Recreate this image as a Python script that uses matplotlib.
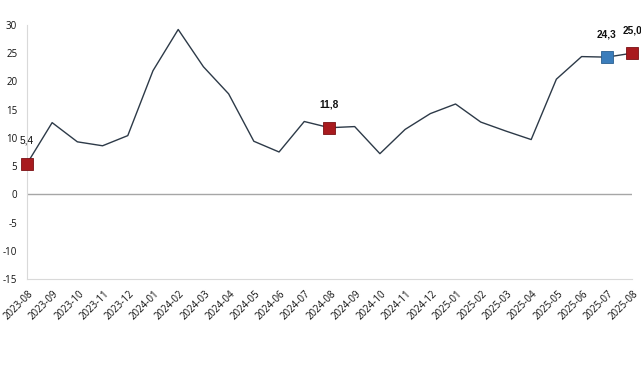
import matplotlib
matplotlib.use("Agg")
import matplotlib.pyplot as plt
import matplotlib.transforms as mtransforms

plt.rcParams["axes.unicode_minus"] = False

months = ["2023-08", "2023-09", "2023-10", "2023-11", "2023-12", "2024-01", "2024-02",
          "2024-03", "2024-04", "2024-05", "2024-06", "2024-07", "2024-08", "2024-09",
          "2024-10", "2024-11", "2024-12", "2025-01", "2025-02", "2025-03", "2025-04",
          "2025-05", "2025-06", "2025-07", "2025-08"]
values = [5.4, 12.7, 9.3, 8.6, 10.4, 21.9, 29.2, 22.6, 17.8, 9.4, 7.5, 12.9, 11.8,
          12.0, 7.2, 11.5, 14.3, 16.0, 12.8, 11.2, 9.7, 20.4, 24.4, 24.3, 25.0]
red_idx = [0, 12, 24]
blue_idx = [23]
label_idx = [0, 12, 23, 24]
yticks = [-15, -10, -5, 0, 5, 10, 15, 20, 25, 30]

fig = plt.figure(figsize=(6.41, 3.65), dpi=100)
ax = fig.add_axes([0.042, 0.2356, 0.944, 0.696])
x = list(range(len(months)))
ax.plot(x, values, color="#2d3a48", lw=1.0, zorder=3, clip_on=False)
ax.plot([x[i] for i in red_idx], [values[i] for i in red_idx], ls="none", marker="s",
        ms=8, mfc="#a81a1e", mec="#7a1014", mew=0.6, zorder=4, clip_on=False)
ax.plot([x[i] for i in blue_idx], [values[i] for i in blue_idx], ls="none", marker="s",
        ms=8, mfc="#3b7dbb", mec="#2a5f90", mew=0.6, zorder=4, clip_on=False)
for i in label_idx:
    ax.annotate(f"{values[i]:.1f}".replace(".", ","), (x[i], values[i]),
                xytext=(0, 13), textcoords="offset points", ha="center", va="bottom",
                fontsize=7.3, fontweight="normal" if i == 0 else "bold",
                family="Liberation Sans", color="#111111")

ax.axhline(0, color="#a6a6a6", lw=1.0, zorder=2)
ax.set_xlim(0, 24)
ax.set_ylim(-15, 30)
ax.set_yticks(yticks)
ax.set_xticks(x)
ax.set_xticklabels(months, rotation=45, ha="right", rotation_mode="anchor")
for s in ["top", "right"]:
    ax.spines[s].set_visible(False)
ax.spines["left"].set_color("#d9d9d9")
ax.spines["bottom"].set_color("#d9d9d9")
ax.tick_params(length=0, labelsize=7, colors="#111111", pad=7)
ax.tick_params(axis="x", pad=7)
offset = mtransforms.ScaledTranslation(1 / 100, 0, fig.dpi_scale_trans)
for lab in ax.get_xticklabels():
    lab.set_transform(lab.get_transform() + offset)
for lab in ax.get_xticklabels() + ax.get_yticklabels():
    lab.set_family("Open Sans")
fig.savefig("out.png", dpi=100, facecolor="white")
